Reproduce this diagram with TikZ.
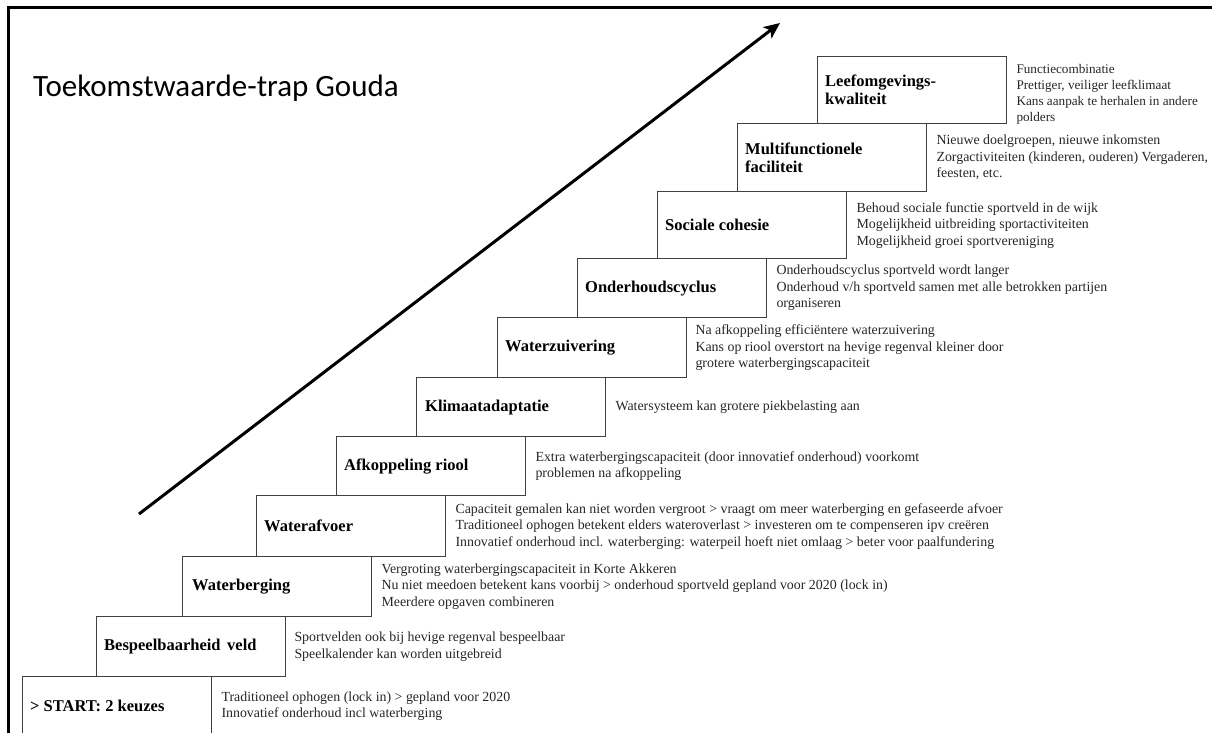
\documentclass[tikz,border=0pt]{standalone}
\usepackage{fontspec}
\setmainfont{Liberation Serif}
\newfontfamily\titlefont{Carlito}
\usetikzlibrary{arrows.meta}
\begin{document}
\begin{tikzpicture}[x=1pt,y=-1pt,
  stepbox/.style={draw=black!75, line width=1.3pt, minimum width=189pt, anchor=north west, inner sep=0pt},
  steplabel/.style={anchor=west, inner sep=0pt, align=left, font=\bfseries\fontsize{16.5}{18}\selectfont},
  stepdesc/.style={anchor=west, inner sep=0pt, align=left, text=black!85, font=\fontsize{13.9}{16.5}\selectfont},
  frameline/.style={line width=3pt},
  bigarrow/.style={line width=3pt, -{Stealth[length=16pt,width=14pt,inset=4pt]}}]
\useasboundingbox (0,0) rectangle (1212,733);
% frame
\coordinate (fbl) at (8,740);
\coordinate (ftl) at (8,8);
\coordinate (ftr) at (1220,8);
\draw[frameline] (fbl) -- (ftl) -- (ftr);
% title
\node[anchor=west, inner sep=0pt, font=\titlefont\fontsize{31}{34}\selectfont] (title) at (33,88) {Toekomstwaarde-trap Gouda};
% arrow
\coordinate (arrS) at (139,514);
\coordinate (arrE) at (780,23);
\draw[bigarrow] (arrS) -- (arrE);
% boxes
\node[stepbox, minimum height=64pt] (b1) at (22,676) {};
\node[stepbox, minimum height=60pt] (b2) at (96,616) {};
\node[stepbox, minimum height=60pt] (b3) at (182,556) {};
\node[stepbox, minimum height=61pt] (b4) at (256,495) {};
\node[stepbox, minimum height=59pt] (b5) at (336,436) {};
\node[stepbox, minimum height=59pt] (b6) at (416,377) {};
\node[stepbox, minimum height=60pt] (b7) at (497,317) {};
\node[stepbox, minimum height=59pt] (b8) at (577,258) {};
\node[stepbox, minimum height=67pt] (b9) at (657,191) {};
\node[stepbox, minimum height=68pt] (b10) at (737,123) {};
\node[stepbox, minimum height=67pt] (b11) at (817,56) {};
% labels
\node[steplabel] (l1) at ([xshift=8pt,yshift=1pt]b1.west |- 0,707) {> START: 2 keuzes};
\node[steplabel] (l2) at ([xshift=8pt]b2.west) {Bespeelbaarheid\hspace{0.15em} veld};
\node[steplabel] (l3) at ([xshift=10pt]b3.west) {Waterberging};
\node[steplabel] (l4) at ([xshift=8pt]b4.west) {Waterafvoer};
\node[steplabel] (l5) at ([xshift=8pt]b5.west) {Afkoppeling riool};
\node[steplabel] (l6) at ([xshift=9pt]b6.west) {Klimaatadaptatie};
\node[steplabel] (l7) at ([xshift=8pt]b7.west) {Waterzuivering};
\node[steplabel] (l8) at ([xshift=8pt]b8.west) {Onderhoudscyclus};
\node[steplabel] (l9) at ([xshift=8pt]b9.west) {Sociale cohesie};
\node[steplabel] (l10) at ([xshift=8pt]b10.west) {Multifunctionele\\faciliteit};
\node[steplabel] (l11) at ([xshift=8pt]b11.west) {Leefomgevings-\\kwaliteit};
% descriptions
\node[stepdesc] (d1) at ([xshift=9pt]b1.east |- 0,706) {Traditioneel ophogen (lock in) > gepland voor 2020\\Innovatief onderhoud incl waterberging};
\node[stepdesc] (d2) at ([xshift=8pt]b2.east) {Sportvelden ook bij hevige regenval bespeelbaar\\Speelkalender kan worden uitgebreid};
\node[stepdesc] (d3) at ([xshift=9pt]b3.east) {Vergroting waterbergingscapaciteit in Korte Akkeren\\Nu niet meedoen betekent kans voorbij > onderhoud sportveld gepland voor 2020 (lock in)\\Meerdere opgaven combineren};
\node[stepdesc] (d4) at ([xshift=9pt]b4.east) {Capaciteit gemalen kan niet worden vergroot > vraagt om meer waterberging en gefaseerde afvoer\\Traditioneel ophogen betekent elders wateroverlast > investeren om te compenseren ipv creëren\\Innovatief onderhoud incl. waterberging: waterpeil hoeft niet omlaag > beter voor paalfundering};
\node[stepdesc] (d5) at ([xshift=9pt]b5.east) {Extra waterbergingscapaciteit (door innovatief onderhoud) voorkomt\\problemen na afkoppeling};
\node[stepdesc] (d6) at ([xshift=9pt]b6.east) {Watersysteem kan grotere piekbelasting aan};
\node[stepdesc] (d7) at ([xshift=8pt]b7.east) {Na afkoppeling efficiëntere waterzuivering\\Kans op riool overstort na hevige regenval kleiner door\\grotere waterbergingscapaciteit};
\node[stepdesc] (d8) at ([xshift=9pt]b8.east) {Onderhoudscyclus sportveld wordt langer\\Onderhoud v/h sportveld samen met alle betrokken partijen\\organiseren};
\node[stepdesc] (d9) at ([xshift=9pt]b9.east) {Behoud sociale functie sportveld in de wijk\\Mogelijkheid uitbreiding sportactiviteiten\\Mogelijkheid groei sportvereniging};
\node[stepdesc] (d10) at ([xshift=9pt]b10.east) {Nieuwe doelgroepen, nieuwe inkomsten\\Zorgactiviteiten (kinderen, ouderen) Vergaderen,\\feesten, etc.};
\node[stepdesc, font=\fontsize{13.2}{16}\selectfont] (d11) at ([xshift=9pt,yshift=-4pt]b11.east) {Functiecombinatie\\Prettiger, veiliger leefklimaat\\Kans aanpak te herhalen in andere\\polders};
\end{tikzpicture}
\end{document}
